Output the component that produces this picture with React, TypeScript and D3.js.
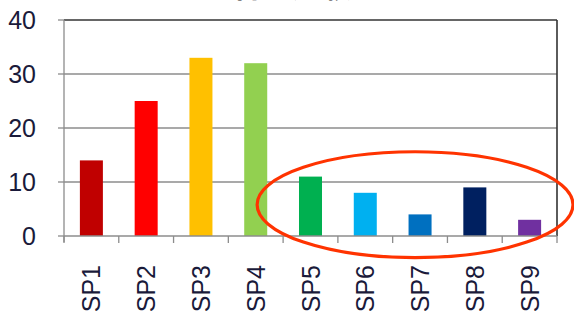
import { useEffect, useRef } from 'react';
import * as d3 from 'd3';

const categories = ['SP1', 'SP2', 'SP3', 'SP4', 'SP5', 'SP6', 'SP7', 'SP8', 'SP9'];
const values = [14, 25, 33, 32, 11, 8, 4, 9, 3];
const colors = ['#c00000', '#ff0000', '#ffc000', '#92d050', '#00b050', '#00b0f0', '#0070c0', '#002060', '#7030a0'];
const yTicks = [0, 10, 20, 30, 40];
const title = '各组比较';

export default function App() {
    const svgRef = useRef<SVGSVGElement>(null);

    useEffect(() => {
        if (!svgRef.current) return;
        const W = 574, H = 320;
        const left = 64, right = 557, top = 20, bottom = 236;

        const svg = d3.select(svgRef.current);
        svg.selectAll('*').remove();
        svg.append('rect').attr('width', W).attr('height', H).attr('fill', '#fff');

        const x = d3.scaleBand().domain(categories).range([left, right]).paddingInner(0.58).paddingOuter(0.29);
        const xb = d3.scaleBand().domain(categories).range([left, right]); // category slots, for ticks
        const y = d3.scaleLinear().domain([0, 40]).range([bottom, top]);

        const font = '"Liberation Sans", Arial, sans-serif';

        // title, mostly cut off by the top edge
        svg.append('text')
            .attr('x', 292).attr('y', -3)
            .attr('text-anchor', 'middle')
            .attr('font-family', '"Noto Sans CJK SC", sans-serif')
            .attr('font-size', 30).attr('font-weight', 'bold').attr('fill', '#222')
            .text(title);

        // gridlines
        for (const t of yTicks.slice(1, -1)) {
            svg.append('line')
                .attr('x1', left).attr('x2', right)
                .attr('y1', y(t)).attr('y2', y(t))
                .attr('stroke', '#8c8c8c').attr('stroke-width', 1.3);
        }
        // top and right border
        svg.append('line').attr('x1', left).attr('x2', right).attr('y1', y(40)).attr('y2', y(40))
            .attr('stroke', '#333').attr('stroke-width', 1.6);
        svg.append('line').attr('x1', right).attr('x2', right).attr('y1', y(40)).attr('y2', y(0))
            .attr('stroke', '#333').attr('stroke-width', 1.6);

        // bars
        svg.selectAll('.bar')
            .data(values)
            .join('rect')
            .attr('class', 'bar')
            .attr('x', (_, i) => x(categories[i])!)
            .attr('y', d => y(d))
            .attr('width', x.bandwidth())
            .attr('height', d => y(0) - y(d))
            .attr('fill', (_, i) => colors[i]);

        // y axis
        svg.append('line').attr('x1', left).attr('x2', left).attr('y1', y(40)).attr('y2', y(0) + 6)
            .attr('stroke', '#8c8c8c').attr('stroke-width', 1.3);
        for (const t of yTicks) {
            svg.append('line').attr('x1', left - 6).attr('x2', left).attr('y1', y(t)).attr('y2', y(t))
                .attr('stroke', '#8c8c8c').attr('stroke-width', 1.3);
            svg.append('text')
                .attr('x', 36).attr('y', y(t) + 9)
                .attr('text-anchor', 'end')
                .attr('font-family', font).attr('font-size', 25).attr('fill', '#1a1a3a')
                .text(t);
        }

        // x axis
        svg.append('line').attr('x1', left).attr('x2', right).attr('y1', y(0)).attr('y2', y(0))
            .attr('stroke', '#8c8c8c').attr('stroke-width', 1.3);
        const edges = categories.map(c => xb(c)!).concat([right]);
        for (const e of edges) {
            svg.append('line').attr('x1', e).attr('x2', e).attr('y1', y(0)).attr('y2', y(0) + 7)
                .attr('stroke', '#8c8c8c').attr('stroke-width', 1.3);
        }
        svg.selectAll('.xlbl')
            .data(categories)
            .join('text')
            .attr('class', 'xlbl')
            .attr('transform', d => `translate(${xb(d)! + xb.bandwidth() / 2 + 9},265) rotate(-90)`)
            .attr('text-anchor', 'end')
            .attr('font-family', font).attr('font-size', 25).attr('fill', '#1a1a3a')
            .text(d => d);

        // highlight ellipse around SP5..SP9
        const ex0 = xb('SP5')! - 26, ex1 = right + 16;
        const ey0 = y(15.6), ey1 = y(-4);
        svg.append('ellipse')
            .attr('cx', (ex0 + ex1) / 2).attr('cy', (ey0 + ey1) / 2)
            .attr('rx', (ex1 - ex0) / 2).attr('ry', (ey1 - ey0) / 2)
            .attr('fill', 'none').attr('stroke', '#ff3300').attr('stroke-width', 3.2);
    }, []);

    return <svg ref={svgRef} width={574} height={320} style={{ position: 'absolute', left: 0, top: 0 }} />;
}
